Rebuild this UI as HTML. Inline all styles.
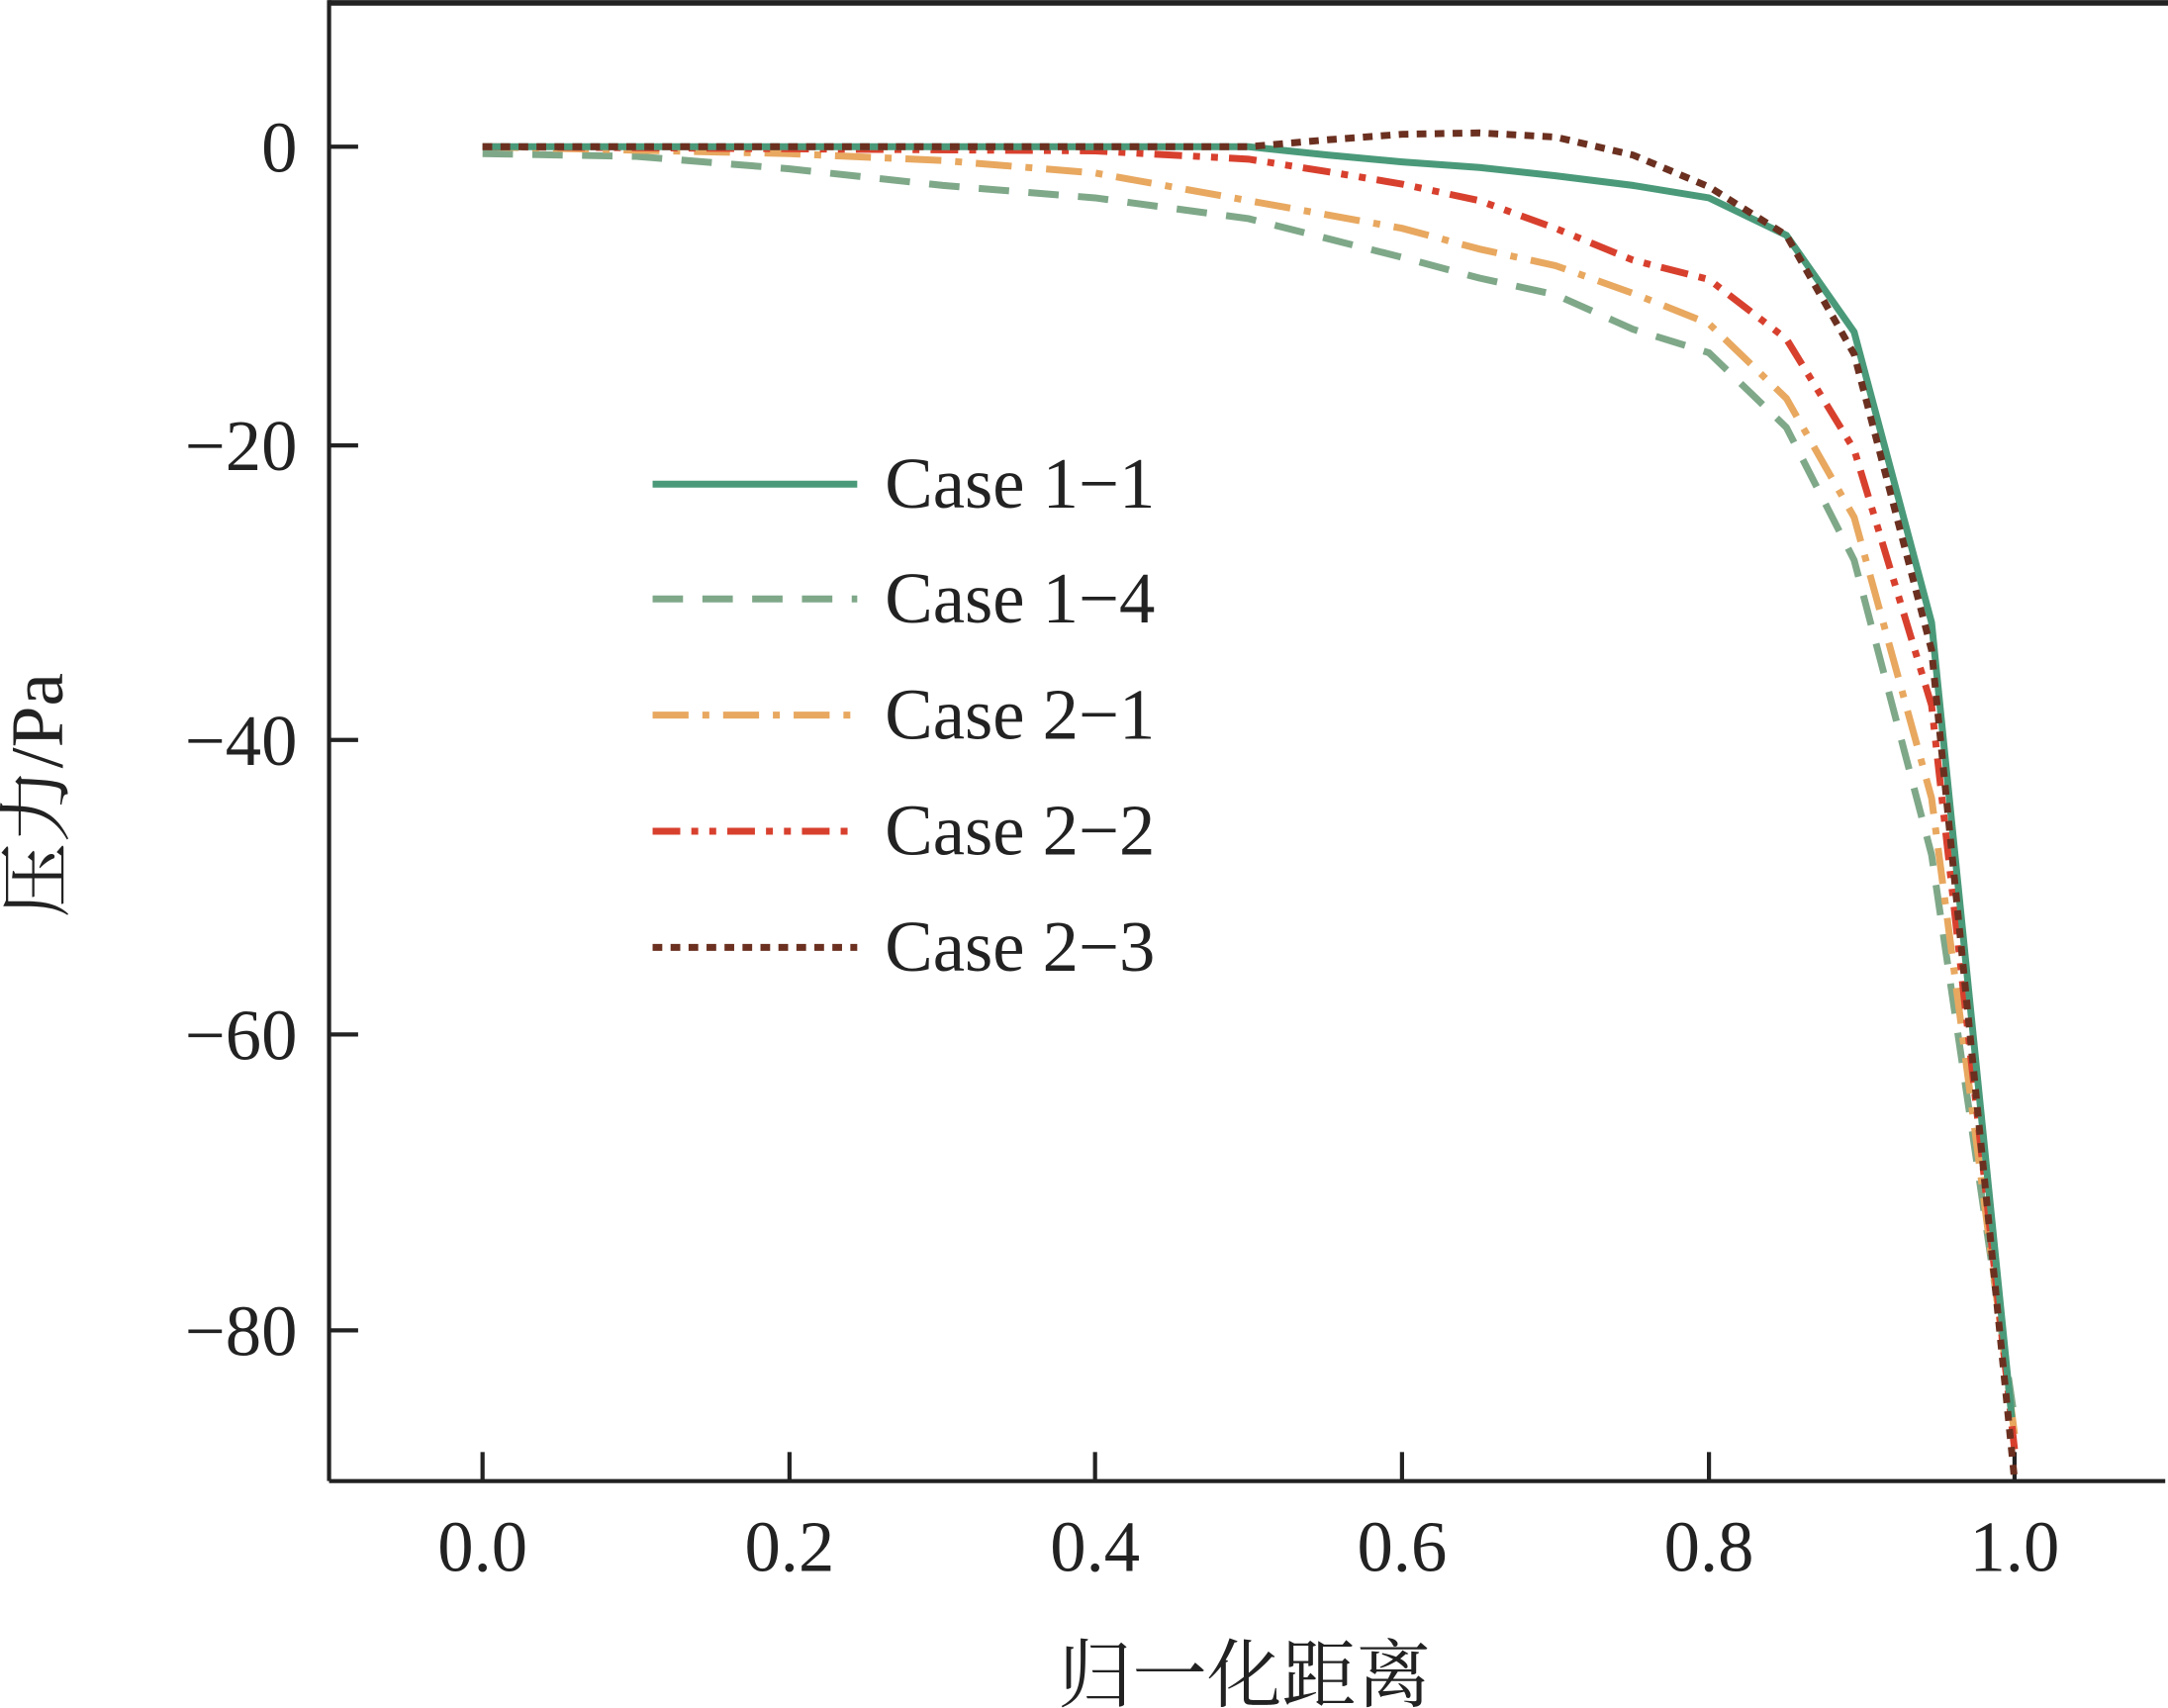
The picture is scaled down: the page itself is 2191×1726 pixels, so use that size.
<!DOCTYPE html>
<html><head><meta charset="utf-8"><style>html,body{margin:0;padding:0;background:#fff}svg{display:block}</style></head><body>
<svg width="2191" height="1726" viewBox="0 0 1568 1235" xmlns="http://www.w3.org/2000/svg" font-family="'Liberation Serif','Noto Serif CJK SC',serif">
<rect width="1568" height="1235" fill="#fff"/>
<g stroke="#222" stroke-width="3" fill="none">
<line x1="238" y1="0" x2="238" y2="1071"/>
<line x1="238" y1="1071" x2="1566" y2="1071"/>
<line x1="238" y1="2" x2="1568" y2="2" stroke-width="4"/>
<line x1="349" y1="1071" x2="349" y2="1050"/>
<line x1="571" y1="1071" x2="571" y2="1050"/>
<line x1="792" y1="1071" x2="792" y2="1050"/>
<line x1="1014" y1="1071" x2="1014" y2="1050"/>
<line x1="1236" y1="1071" x2="1236" y2="1050"/>
<line x1="1457" y1="1071" x2="1457" y2="1050"/>
<line x1="238" y1="106" x2="259" y2="106"/>
<line x1="238" y1="322" x2="259" y2="322"/>
<line x1="238" y1="535" x2="259" y2="535"/>
<line x1="238" y1="748" x2="259" y2="748"/>
<line x1="238" y1="962" x2="259" y2="962"/>
</g>
<g font-size="52" fill="#222" text-anchor="middle">
<text x="349" y="1136">0.0</text><text x="571" y="1136">0.2</text><text x="792" y="1136">0.4</text>
<text x="1014" y="1136">0.6</text><text x="1236" y="1136">0.8</text><text x="1457" y="1136">1.0</text>
</g>
<g font-size="52" fill="#222" text-anchor="end">
<text x="215" y="124">0</text><text x="215" y="340">−20</text><text x="215" y="553">−40</text>
<text x="215" y="766">−60</text><text x="215" y="980">−80</text>
</g>
<text x="900" y="1230" font-size="54" text-anchor="middle" fill="#222">归一化距离</text>
<text transform="translate(45,575) rotate(-90)" font-size="54" text-anchor="middle" fill="#222">压力/Pa</text>
<g fill="none" stroke-width="5">
<polyline stroke="#7fa889" stroke-dasharray="22,14" points="349,111 460,113 571,122 682,134 792,143 903,158 1014,186 1070,201 1125,213 1181,238 1236,255 1292,309 1341,405 1397,618 1457,1026"/>
<polyline stroke="#e8a860" stroke-dasharray="26,10,5,10" points="349,106 571,111 682,116 792,125 903,145 1014,165 1070,180 1125,192 1181,212 1236,234 1292,288 1341,374 1397,577 1457,1037"/>
<polyline stroke="#d8402e" stroke-dasharray="20,8,5,8,5,8" points="349,106 792,109 903,115 960,124 1014,133 1070,145 1125,165 1181,188 1236,202 1292,245 1341,325 1397,510 1457,1048"/>
<polyline stroke="#4a9a7a" points="349,106 903,106 960,112 1014,117 1070,121 1125,127 1181,134 1236,143 1292,170 1341,240 1397,450 1455,1025"/>
<polyline stroke="#6b3020" stroke-dasharray="7,6" points="349,106 792,106 903,106 960,101 1014,97 1070,96 1125,99 1181,112 1236,135 1292,170 1341,256 1397,470 1457,1070"/>
<line x1="472" y1="350" x2="620" y2="350" stroke="#4a9a7a"/>
<line x1="472" y1="433" x2="620" y2="433" stroke="#7fa889" stroke-dasharray="22,14"/>
<line x1="472" y1="517" x2="620" y2="517" stroke="#e8a860" stroke-dasharray="26,10,5,10"/>
<line x1="472" y1="601" x2="620" y2="601" stroke="#d8402e" stroke-dasharray="20,8,5,8,5,8"/>
<line x1="472" y1="685" x2="620" y2="685" stroke="#6b3020" stroke-dasharray="7,6"/>
</g>
<g font-size="52" fill="#222">
<text x="640" y="367">Case 1−1</text><text x="640" y="450">Case 1−4</text><text x="640" y="534">Case 2−1</text>
<text x="640" y="618">Case 2−2</text><text x="640" y="702">Case 2−3</text>
</g>
</svg>
</body></html>
